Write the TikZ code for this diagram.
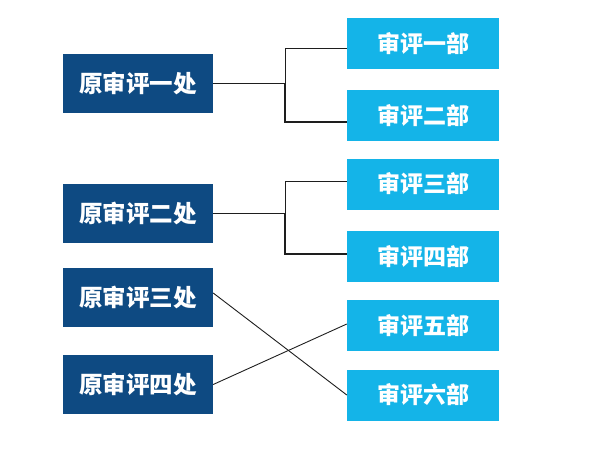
\documentclass[tikz,border=0pt]{standalone}
\usepackage{fontspec}
\newfontfamily\cjk{Noto Sans CJK SC}
\definecolor{darkbox}{RGB}{14,74,130}
\definecolor{lightbox}{RGB}{20,180,232}
\definecolor{linecol}{RGB}{30,30,30}
\begin{document}
\begin{tikzpicture}[x=1pt,y=-1pt,
  oldbox/.style={fill=darkbox,minimum width=150pt,minimum height=59pt,inner sep=0pt,text=white,font=\cjk\bfseries\fontsize{23.5}{23.5}\selectfont},
  newbox/.style={fill=lightbox,minimum width=152pt,minimum height=51pt,inner sep=0pt,text=white,font=\cjk\bfseries\fontsize{23}{23}\selectfont},
  link/.style={draw=linecol,line width=0.9pt}]
\useasboundingbox (0,0) rectangle (600,450);
\node[oldbox] (L1) at (138,83.5) {原审评一处};
\node[oldbox] (L2) at (138,213.5) {原审评二处};
\node[oldbox] (L3) at (138,297) {原审评三处};
\node[oldbox] (L4) at (138,384.5) {原审评四处};
\node[newbox] (R1) at (423,43.5) {审评一部};
\node[newbox] (R2) at (423,115.5) {审评二部};
\node[newbox] (R3) at (423,184) {审评三部};
\node[newbox] (R4) at (423,256.5) {审评四部};
\node[newbox] (R5) at (423,325.5) {审评五部};
\node[newbox] (R6) at (423,395) {审评六部};
\coordinate (j1) at (285,83.5);
\coordinate (j2) at (285,213.5);
\draw[link] (L1.east) -- (j1);
\draw[link] ([yshift=-4.5pt]R1.west) -| (j1);
\draw[link,line width=1.4pt] ([yshift=-6.5pt]R2.west) -| (j1);
\draw[link] (L2.east) -- (j2);
\draw[link] ([yshift=3pt]R3.west) -| (j2);
\draw[link,line width=1.4pt] ([yshift=2.5pt]R4.west) -| (j2);
\draw[link] ([yshift=4pt]L3.east) -- (R6.west);
\draw[link] (L4.east) -- ([yshift=1.5pt]R5.west);
\end{tikzpicture}
\end{document}
